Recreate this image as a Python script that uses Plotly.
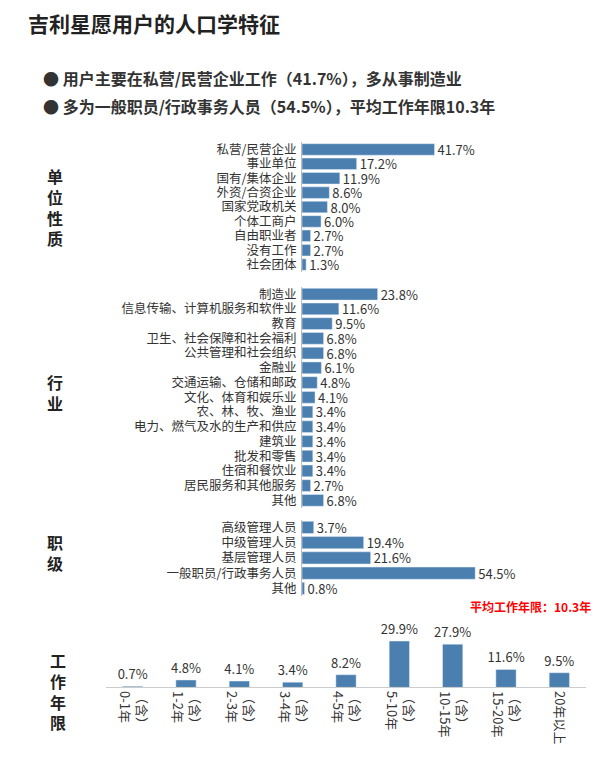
import plotly.graph_objects as go

F = "Noto Sans CJK SC"
C = "#4a7fb0"

unit_cats = ["私营/民营企业","事业单位","国有/集体企业","外资/合资企业","国家党政机关","个体工商户","自由职业者","没有工作","社会团体"]
unit_vals = [41.7,17.2,11.9,8.6,8.0,6.0,2.7,2.7,1.3]
ind_cats = ["制造业","信息传输、计算机服务和软件业","教育","卫生、社会保障和社会福利","公共管理和社会组织","金融业","交通运输、仓储和邮政","文化、体育和娱乐业","农、林、牧、渔业","电力、燃气及水的生产和供应","建筑业","批发和零售","住宿和餐饮业","居民服务和其他服务","其他"]
ind_vals = [23.8,11.6,9.5,6.8,6.8,6.1,4.8,4.1,3.4,3.4,3.4,3.4,3.4,2.7,6.8]
job_cats = ["高级管理人员","中级管理人员","基层管理人员","一般职员/行政事务人员","其他"]
job_vals = [3.7,19.4,21.6,54.5,0.8]
yr_cats = ["（含）<br>0-1年","（含）<br>1-2年","（含）<br>2-3年","（含）<br>3-4年","（含）<br>4-5年","（含）<br>5-10年","（含）<br>10-15年","（含）<br>15-20年","20年以上"]
yr_vals = [0.7,4.8,4.1,3.4,8.2,29.9,27.9,11.6,9.5]

fig = go.Figure()
H = 759
def adj(t):
    return t - (11 - 5 * (t - 148) / 538)
def py(t):
    return 1 - adj(t) / H
def dom(top, bot):
    return [py(bot), py(top)]

xd = [294/615, 1.0]
for i, (cats, vals, t, b) in enumerate([(unit_cats, unit_vals, 143, 272), (ind_cats, ind_vals, 287, 507), (job_cats, job_vals, 519, 595)]):
    n = i + 1
    fig.add_trace(go.Bar(x=vals, y=cats, orientation="h", marker_color=C, width=0.8,
                         text=[f"{v:.1f}%" for v in vals], textposition="outside", constraintext="none",
                         textfont=dict(size=13, color="#333", family=F), cliponaxis=False,
                         xaxis=f"x{n}", yaxis=f"y{n}"))
    fig.layout[f"xaxis{n}"] = dict(domain=xd, range=[0, 101], visible=False, anchor=f"y{n}")
    fig.layout[f"yaxis{n}"] = dict(domain=dom(t, b), type="category", categoryorder="array", categoryarray=cats,
                                   autorange="reversed", anchor=f"x{n}", showline=True, linecolor="#bbb",
                                   tickmode="array", tickvals=cats, ticktext=cats,
                                   ticks="", ticklabelstandoff=2, tickfont=dict(size=12.5, color="#333", family=F))

fig.add_trace(go.Bar(x=yr_cats, y=yr_vals, marker_color=C, width=0.38,
                     text=[f"{v:.1f}%" for v in yr_vals], textposition="outside", constraintext="none",
                     textfont=dict(size=13, color="#333", family=F), cliponaxis=False,
                     xaxis="x4", yaxis="y4"))
fig.layout["xaxis4"] = dict(domain=[98/615, 578/615], anchor="y4", showline=True, linecolor="#ccc",
                            tickmode="array", tickvals=yr_cats, ticktext=yr_cats,
                            tickangle=90, ticks="", tickfont=dict(size=13, color="#333", family=F))
fig.layout["yaxis4"] = dict(domain=dom(615, 686), range=[0, 46], visible=False, anchor="x4")

anns = [
    dict(x=18/615, y=1-12/H, text="<b>吉利星愿用户的人口学特征</b>", font=dict(size=21, color="#222")),
    dict(x=33/615, y=1-67/H, text="<b>● 用户主要在私营/民营企业工作（41.7%），多从事制造业</b>", font=dict(size=16, color="#333")),
    dict(x=33/615, y=1-96/H, text="<b>● 多为一般职员/行政事务人员（54.5%），平均工作年限10.3年</b>", font=dict(size=16, color="#333")),
]
for a in anns:
    a.update(xref="paper", yref="paper", showarrow=False, xanchor="left", yanchor="middle")
    a["font"]["family"] = F
    fig.add_annotation(**a)
for txt, y, x in [("单<br>位<br>性<br>质", 207, 47), ("行<br>业", 392, 47), ("职<br>级", 552, 47), ("工<br>作<br>年<br>限", 690, 50)]:
    fig.add_annotation(xref="paper", yref="paper", x=x/615, y=py(y), xanchor="center", yanchor="middle",
                       showarrow=False, text=f"<b>{txt}</b>", font=dict(size=16, color="#222", family=F))
fig.add_annotation(xref="paper", yref="paper", x=585/615, y=py(605), xanchor="right", yanchor="middle",
                   showarrow=False, text="<b>平均工作年限：10.3年</b>", font=dict(size=12, color="red", family=F))

fig.update_layout(width=615, height=759, margin=dict(l=0, r=0, t=0, b=0), showlegend=False,
                  plot_bgcolor="white", paper_bgcolor="white", font=dict(family=F))
fig.write_html("out.html")
